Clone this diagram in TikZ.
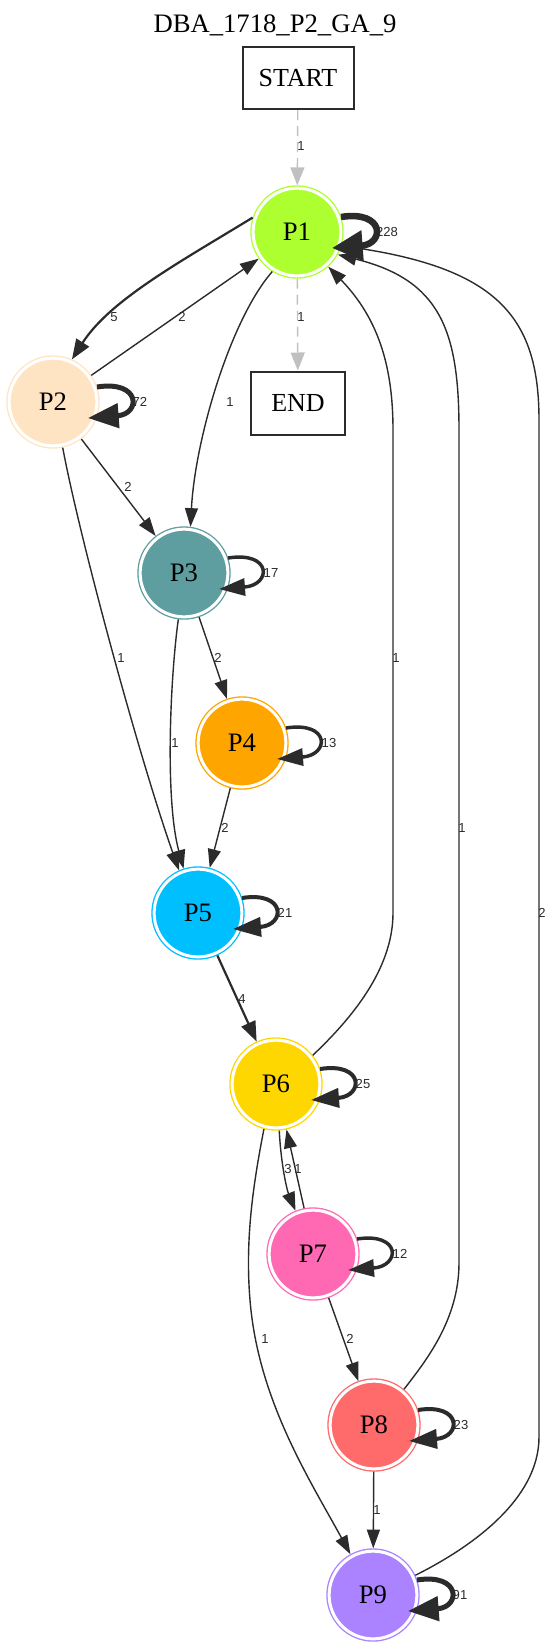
\documentclass[tikz,border=0pt]{standalone}
\usepackage{fontspec}
\setmainfont{Liberation Serif}
\newfontfamily\edgelabelfont{Liberation Sans}
\usetikzlibrary{arrows.meta,calc}

\definecolor{ink}{HTML}{2B2B2B}
\definecolor{ghost}{HTML}{C0C0C0}
\definecolor{cP1}{HTML}{ADFF2F}
\definecolor{cP2}{HTML}{FFE4C4}
\definecolor{cP3}{HTML}{5F9EA0}
\definecolor{cP4}{HTML}{FFA500}
\definecolor{cP5}{HTML}{00BFFF}
\definecolor{cP6}{HTML}{FFD700}
\definecolor{cP7}{HTML}{FF69B4}
\definecolor{cP8}{HTML}{FF6A6A}
\definecolor{cP9}{HTML}{AB82FF}

\tikzset{
  pstate/.style={circle, minimum size=65.8pt, inner sep=0pt, outer sep=2.1pt,
    line width=1pt, double=white, double distance=2.25pt, draw=#1, fill=#1,
    font=\fontsize{20}{23}\selectfont},
  termbox/.style={rectangle, draw=ink, line width=1.5pt, inner sep=0pt,
    font=\fontsize{19.5}{23}\selectfont},
  elab/.style={font=\edgelabelfont\fontsize{9.8}{11}\selectfont, text=ink, inner sep=0pt},
  flow/.style={draw=ink, line width=1.05pt, -{Triangle[length=14pt,width=9.75pt]}},
  flowmid/.style={draw=ink, line width=1.65pt, -{Triangle[length=15pt,width=11.25pt]}},
  ghostflow/.style={draw=ghost, line width=1.05pt, dash pattern=on 7.5pt off 4.5pt,
    -{Triangle[length=13.5pt,width=10.5pt]}},
  loopA/.style={draw=ink, line width=4.9pt, -{Triangle[length=23pt,width=22pt]}},
  loopB/.style={draw=ink, line width=3.75pt, -{Triangle[length=23pt,width=18pt]}},
  loopC/.style={draw=ink, line width=3pt, -{Triangle[length=21pt,width=14.25pt]}},
  loopD/.style={draw=ink, line width=2.6pt, -{Triangle[length=19.5pt,width=12.75pt]}},
}

% self loop on the right-hand side of a state, with its count beside it
% (#4 = horizontal offset of the count from the state's centre)
\newcommand{\selfloopedge}[4]{%
  \draw[#2] ($(#1)+(44,-15)$) .. controls ($(#1)+(88,-22)$) and ($(#1)+(88,12)$) .. ($(#1)+(35,16)$);
  \node[elab] (#1-loop) at ($(#1)+(#4,0)$) {#3};
}

\begin{document}
\begin{tikzpicture}[x=0.75pt, y=-0.75pt]
\useasboundingbox (0,0) rectangle (553,1650);

% title
\node[font=\fontsize{20}{23}\selectfont, inner sep=0pt] (title) at (275,25) {DBA\_1718\_P2\_GA\_9};

% terminal boxes
\node[termbox, minimum width=83.25pt, minimum height=46.5pt] (START) at (298,78) {START};
\node[termbox, minimum width=70.5pt, minimum height=47.25pt] (END) at (298,403) {END};

% states
\node[pstate=cP1] (P1) at (297,232) {P1};
\node[pstate=cP2] (P2) at (53,402) {P2};
\node[pstate=cP3] (P3) at (184,573) {P3};
\node[pstate=cP4] (P4) at (242,743) {P4};
\node[pstate=cP5] (P5) at (198,913) {P5};
\node[pstate=cP6] (P6) at (276,1084) {P6};
\node[pstate=cP7] (P7) at (313,1254) {P7};
\node[pstate=cP8] (P8) at (374,1425) {P8};
\node[pstate=cP9] (P9) at (373,1595) {P9};

% start / end
\draw[ghostflow] (START) -- (P1);
\node[elab] (lS1) at (301,146) {1};
\draw[ghostflow] (P1) -- (END);
\node[elab] (l1E) at (301,317) {1};

% edges between states
\draw[flowmid] (P1.162) .. controls (180,262) and (110,300) .. (P2.66);
\node[elab] (l12) at (114,317) {5};
\draw[flow] (P2) -- (P1);
\node[elab] (l21) at (182,317) {2};
\draw[flow] (P1.238) .. controls (230,320) and (195,440) .. (P3.82);
\node[elab] (l13) at (230,402) {1};
\draw[flow] (P2) -- (P3);
\node[elab] (l23) at (128,487) {2};
\draw[flow] (P2.-78) .. controls (80,540) and (140,760) .. (P5.114);
\node[elab] (l25) at (121,658) {1};
\draw[flow] (P3) -- (P4);
\node[elab] (l34) at (218,658) {2};
\draw[flow] (P3.-97) .. controls (170,680) and (165,800) .. (P5.108);
\node[elab] (l35) at (175,743) {1};
\draw[flow] (P4) -- (P5);
\node[elab] (l45) at (225,828) {2};
\draw[flowmid] (P5) -- (P6);
\node[elab] (l56) at (242,999) {4};
\draw[flow] (P6.38) .. controls (350,1020) and (393,970) .. (393,913)
  -- (393,430) .. controls (393,370) and (380,320) .. (P1.-48);
\node[elab] (l61) at (396,658) {1};
\draw[flow] (P6.-86) .. controls (281,1165) and (287,1190) .. (P7.112);
\node[elab] (l67) at (288,1169) {3};
\draw[flow] (P7.101) -- (P6.-77);
\node[elab] (l76) at (298,1169) {1};
\draw[flow] (P6.-105) .. controls (253,1185) and (245,1240) .. (250,1300)
  .. controls (258,1400) and (310,1480) .. (P9.119);
\node[elab] (l69) at (265,1339) {1};
\draw[flow] (P7) -- (P8);
\node[elab] (l78) at (350,1339) {2};
\draw[flow] (P8.50) .. controls (425,1362) and (459,1320) .. (459,1263)
  -- (459,430) .. controls (459,330) and (440,280) .. (P1.-29);
\node[elab] (l81) at (462,828) {1};
\draw[flow] (P8) -- (P9);
\node[elab] (l89) at (377,1510) {1};
\draw[flow] (P9.25) .. controls (470,1548) and (539,1500) .. (539,1437)
  -- (539,420) .. controls (539,320) and (500,270) .. (P1.-17);
\node[elab] (l91) at (542,913) {2};

% self loops
\selfloopedge{P1}{loopA}{228}{90}
\selfloopedge{P2}{loopB}{72}{87}
\selfloopedge{P3}{loopD}{17}{87}
\selfloopedge{P4}{loopD}{13}{87}
\selfloopedge{P5}{loopC}{21}{87}
\selfloopedge{P6}{loopC}{25}{87}
\selfloopedge{P7}{loopD}{12}{87}
\selfloopedge{P8}{loopC}{23}{87}
\selfloopedge{P9}{loopB}{91}{87}
\end{tikzpicture}
\end{document}
